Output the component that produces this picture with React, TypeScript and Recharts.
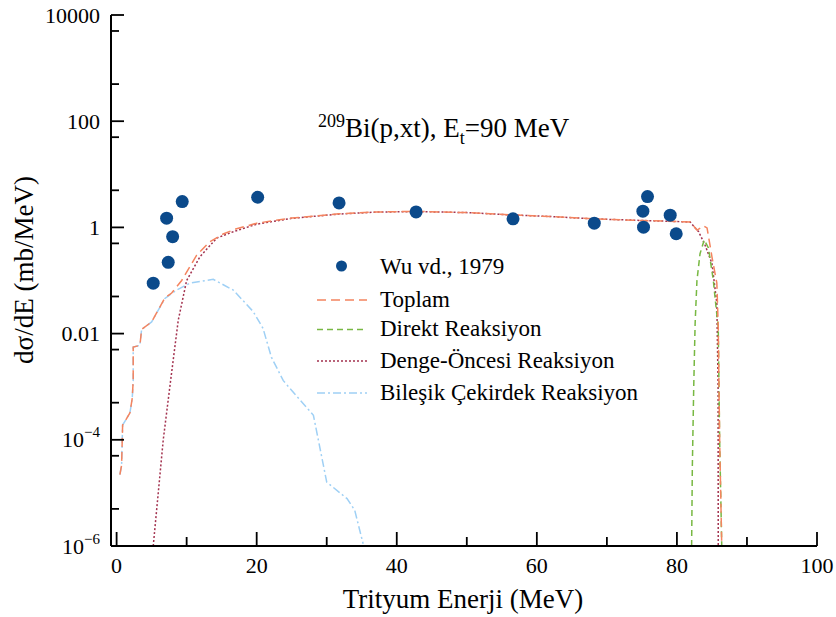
import { ComposedChart, Line, Scatter, XAxis, YAxis } from 'recharts';

// Wu vd., 1979 – experimental points
const expEnergy = [5.23, 7.14, 7.37, 8.0, 9.37, 20.14, 31.76, 42.76, 56.6, 68.2, 75.14, 75.23, 75.8, 79.04, 79.9];
const expSigma = [0.089, 1.49, 0.22, 0.67, 3.06, 3.7, 2.89, 1.96, 1.45, 1.2, 2.02, 1.01, 3.8, 1.7, 0.76];

// Toplam
const toplamE = [0.47, 0.71, 0.86, 1.9, 2.23, 2.37, 2.37, 3.33, 3.57, 5.0, 6.9, 7.86, 9.29, 11.43, 13.33, 15.2, 17.0, 20.0, 25.0, 31.7, 37.0, 42.7, 50.0, 56.6, 62.0, 68.0, 75.0, 80.0, 81.9, 82.86, 83.4, 83.8, 84.3, 85.0, 85.7, 85.9, 86.1, 86.4];
const toplamS = [2.2e-5, 3.3e-5, 1.9e-4, 3.2e-4, 6e-4, 1.3e-3, 5.6e-3, 6e-3, 0.012, 0.0166, 0.047, 0.058, 0.1, 0.3, 0.54, 0.75, 0.93, 1.2, 1.5, 1.8, 1.95, 2.0, 1.9, 1.72, 1.6, 1.45, 1.35, 1.29, 1.26, 0.89, 0.98, 1.07, 0.98, 0.28, 0.089, 0.0135, 1e-4, 1e-6];

// Direkt Reaksiyon
const direktE = [82.1, 82.2, 82.4, 82.6, 82.86, 83.3, 83.9, 84.5, 85.2, 85.6, 85.9, 86.1, 86.4];
const direktS = [1e-6, 3e-5, 1e-3, 0.0155, 0.1, 0.32, 0.58, 0.41, 0.1, 0.03, 0.0135, 1e-4, 1e-6];

// Denge-Öncesi Reaksiyon
const dengeE = [5.23, 6.66, 7.71, 8.8, 10.0, 11.9, 14.3, 16.66, 20.0, 25.0, 31.7, 37.0, 42.7, 50.0, 56.6, 62.0, 68.0, 75.0, 80.0, 81.9, 83.1, 84.0, 85.0, 85.7, 85.88, 85.9];
const dengeS = [1e-6, 1e-4, 1.3e-3, 0.0178, 0.1, 0.28, 0.63, 0.83, 1.15, 1.48, 1.78, 1.94, 1.99, 1.9, 1.71, 1.6, 1.45, 1.35, 1.29, 1.26, 0.83, 0.47, 0.21, 0.037, 1e-3, 1e-6];

// Bileşik Çekirdek Reaksiyon
const bilesikE = [0.47, 0.71, 0.86, 1.9, 2.23, 2.37, 2.37, 3.33, 3.57, 5.0, 6.9, 8.57, 10.47, 13.8, 16.66, 19.5, 20.9, 22.1, 23.8, 26.2, 28.1, 30.0, 32.9, 34.0, 35.2];
const bilesikS = [2.2e-5, 3.3e-5, 1.9e-4, 3.2e-4, 6e-4, 1.3e-3, 5.6e-3, 6e-3, 0.012, 0.0166, 0.046, 0.066, 0.089, 0.105, 0.066, 0.026, 0.0126, 3.6e-3, 1.3e-3, 5.6e-4, 2.9e-4, 1.6e-5, 7.8e-6, 4.7e-6, 1.1e-6];

const xTicks = [0, 10, 20, 30, 40, 50, 60, 70, 80, 90, 100];
const xMajor = [0, 20, 40, 60, 80, 100];
const yMajor = [1e-6, 1e-4, 0.01, 1, 100, 10000];
const yMinor = [5e-6, 5e-5, 5e-4, 5e-3, 0.05, 0.5, 5, 50, 500, 5000];

const pts = (xs: number[], ys: number[]) => xs.map((x, i) => ({ x, y: ys[i] }));

const FONT = '"Liberation Serif", "Times New Roman", serif';
const txt = { fontFamily: FONT };
const C_EXP = '#0b4a8b';
const C_TOP = '#f4845f';
const C_DIR = '#78b843';
const C_DEN = '#a3324f';
const C_BIL = '#9fd0f5';

const YTick = (props: any) => {
  const { x, y, payload } = props;
  const v = payload.value;
  const major = yMajor.some(m => Math.abs(m - v) / m < 1e-6);
  const exp = Math.round(Math.log10(v));
  return (
    <g>
      <line x1={x} x2={x + (major ? 13 : 8)} y1={y} y2={y} stroke="#000" strokeWidth={1.8} />
      {major && (
        <text x={x - 11} y={y + 7.5} textAnchor="end" fontSize={22} style={txt} fill="#000">
          {v >= 0.01 ? String(v) : (
            <>
              <tspan>10</tspan>
              <tspan fontSize={15} dy={-10}>{'\u2212' + Math.abs(exp)}</tspan>
            </>
          )}
        </text>
      )}
    </g>
  );
};

const XTick = (props: any) => {
  const { x, y, payload } = props;
  const major = xMajor.includes(payload.value);
  return (
    <g>
      <line x1={x} x2={x} y1={y} y2={y - (major ? 14 : 9)} stroke="#000" strokeWidth={1.8} />
      {major && (
        <text x={x} y={y + 27} textAnchor="middle" fontSize={22} style={txt} fill="#000">
          {payload.value}
        </text>
      )}
    </g>
  );
};

const legendRows = [
  { label: 'Toplam', color: C_TOP, dash: '9 5', y: 300 },
  { label: 'Direkt Reaksiyon', color: C_DIR, dash: '6 4', y: 329.5 },
  { label: 'Denge-Öncesi Reaksiyon', color: C_DEN, dash: '2 2', y: 361 },
  { label: 'Bileşik Çekirdek Reaksiyon', color: C_BIL, dash: '8 3 2 3', y: 393 },
];

export default function App() {
  return (
    <div style={{ position: 'absolute', left: 0, top: 0, width: 836, height: 617, background: '#fff' }}>
      <ComposedChart width={836} height={617} margin={{ top: 15, right: 19, bottom: 0, left: 0 }}>
        <XAxis
          type="number"
          dataKey="x"
          domain={[-0.8, 100]}
          ticks={xTicks}
          interval={0}
          height={71}
          tickSize={0}
          tickMargin={0}
          tickLine={false}
          tick={<XTick />}
          axisLine={{ stroke: '#000', strokeWidth: 2 }}
          allowDataOverflow
        />
        <YAxis
          type="number"
          scale="log"
          domain={[1e-6, 10000]}
          ticks={[...yMajor, ...yMinor].sort((a, b) => a - b)}
          interval={0}
          width={111}
          tickSize={0}
          tickMargin={0}
          tickLine={false}
          tick={<YTick />}
          axisLine={{ stroke: '#000', strokeWidth: 2 }}
          allowDataOverflow
        />
        <Line data={pts(bilesikE, bilesikS)} dataKey="y" type="linear" stroke={C_BIL} strokeWidth={1.5} strokeDasharray="8 3 2 3" dot={false} isAnimationActive={false} />
        <Line data={pts(dengeE, dengeS)} dataKey="y" type="linear" stroke={C_DEN} strokeWidth={1.5} strokeDasharray="2 2" dot={false} isAnimationActive={false} />
        <Line data={pts(direktE, direktS)} dataKey="y" type="linear" stroke={C_DIR} strokeWidth={1.5} strokeDasharray="6 4" dot={false} isAnimationActive={false} />
        <Line data={pts(toplamE, toplamS)} dataKey="y" type="linear" stroke={C_TOP} strokeWidth={1.5} strokeDasharray="9 5" dot={false} isAnimationActive={false} />
        <Scatter data={pts(expEnergy, expSigma)} dataKey="y" fill={C_EXP} isAnimationActive={false}
          shape={(p: any) => <circle cx={p.cx} cy={p.cy} r={6.5} fill={C_EXP} />} />
      </ComposedChart>
      <svg width={836} height={617} style={{ position: 'absolute', left: 0, top: 0, pointerEvents: 'none' }}>
        <text x={318} y={137} fontSize={27} fill="#000" style={txt}>
          <tspan fontSize={18} dy={-10}>209</tspan>
          <tspan dy={10}>Bi(p,xt), E</tspan>
          <tspan fontSize={18} dy={7}>t</tspan>
          <tspan dy={-7}>=90 MeV</tspan>
        </text>
        <circle cx={341.5} cy={266} r={5.5} fill={C_EXP} />
        <text x={380} y={274} fontSize={23} fill="#000" style={txt}>Wu vd., 1979</text>
        {legendRows.map(r => (
          <g key={r.label}>
            <line x1={317} x2={367} y1={r.y} y2={r.y} stroke={r.color} strokeWidth={1.5} strokeDasharray={r.dash} />
            <text x={380} y={r.y + 6.5} fontSize={23} fill="#000" style={txt}>{r.label}</text>
          </g>
        ))}
        <text x={463} y={608} fontSize={27} textAnchor="middle" fill="#000" style={txt}>Trityum Enerji (MeV)</text>
        <text x={33} y={270} fontSize={27} textAnchor="middle" fill="#000" style={txt} transform="rotate(-90 33 270)">dσ/dE (mb/MeV)</text>
      </svg>
    </div>
  );
}
